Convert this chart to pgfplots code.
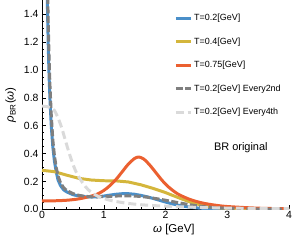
\documentclass[border=0pt]{standalone}
\usepackage{pgfplots}
\pgfplotsset{compat=1.18}
\usepackage{fontspec}
\setmainfont{Liberation Sans}
\definecolor{cblue}{HTML}{4A8FC9}
\definecolor{cyel}{HTML}{D4B63C}
\definecolor{corg}{HTML}{EB6030}
\definecolor{cdg}{HTML}{7F7F7F}
\definecolor{clg}{HTML}{DADADA}
\begin{document}
\begin{tikzpicture}
\begin{axis}[
  scale only axis, width=247bp, height=209bp,
  at={(0,0)}, anchor=south west,
  xmin=0, xmax=4, ymin=0, ymax=1.5,
  axis lines=left, axis line style={-, line width=0.6pt},
  xtick={0,1,2,3,4}, ytick={0,0.2,...,1.4},
  minor x tick num=4, minor y tick num=3,
  tick align=inside,
  major tick length=4pt, minor tick length=2pt,
  tick style={line width=0.5pt, black},
  yticklabel style={/pgf/number format/fixed, /pgf/number format/fixed zerofill, /pgf/number format/precision=1},
  /pgf/number format/assume math mode=true,
  ticklabel style={font=\fontsize{10.5}{12}\selectfont},
  xticklabel style={yshift=2pt},
  label style={font=\fontsize{11.5}{13}\selectfont},
  xlabel={\textit{ω} [GeV]},
  xlabel style={at={(ticklabel cs:0.534)}, anchor=north, yshift=1pt},
  ylabel={\textit{ρ}\textsubscript{BR}(\textit{ω})},
  ylabel style={yshift=1pt},
  legend style={draw=none, fill=none, font=\fontsize{9}{10}\selectfont,
    at={(axis cs:3.02,1.43)}, anchor=north, row sep=11.6pt,
    cells={anchor=west}},
  legend image code/.code={\draw[#1] (0,0) -- (15bp,0);},
  clip=true,
]
\addplot[cblue, line width=3pt] coordinates {
(0.075,2.0)(0.08,1.75)(0.086,1.5)(0.1,1.2)(0.115,0.95)(0.13,0.78)(0.15,0.6)(0.175,0.45)(0.2,0.35)(0.23,0.27)(0.26,0.21)(0.3,0.17)(0.35,0.14)(0.4,0.125)(0.5,0.105)(0.6,0.095)(0.7,0.09)(0.8,0.088)(0.9,0.09)(1.0,0.095)(1.1,0.102)(1.2,0.108)(1.3,0.112)(1.4,0.112)(1.5,0.108)(1.6,0.1)(1.7,0.09)(1.8,0.078)(1.9,0.065)(2.0,0.052)(2.1,0.04)(2.2,0.03)(2.3,0.022)(2.4,0.015)(2.5,0.01)(2.6,0.007)(2.8,0.003)(3.0,0.001)(4.0,0)
};
\addlegendentry{T=0.2[GeV]}
\addplot[cyel, line width=3pt] coordinates {
(0,0.28)(0.2,0.27)(0.4,0.245)(0.6,0.222)(0.8,0.21)(1.0,0.205)(1.2,0.204)(1.4,0.196)(1.6,0.176)(1.8,0.15)(2.0,0.12)(2.2,0.085)(2.4,0.052)(2.6,0.027)(2.8,0.013)(3.0,0.006)(3.5,0.001)(4,0)
};
\addlegendentry{T=0.4[GeV]}
\addplot[corg, line width=3pt, smooth] coordinates {
(0,0.06)(0.2,0.061)(0.4,0.065)(0.6,0.075)(0.8,0.095)(0.9,0.11)(1.0,0.135)(1.1,0.17)(1.2,0.215)(1.3,0.27)(1.4,0.325)(1.5,0.365)(1.57,0.375)(1.65,0.36)(1.75,0.315)(1.85,0.26)(1.95,0.205)(2.05,0.16)(2.2,0.11)(2.4,0.07)(2.6,0.045)(2.8,0.03)(3.0,0.02)(3.5,0.008)(4,0.004)
};
\addlegendentry{T=0.75[GeV]}
\addplot[cdg, line width=3pt, dash pattern=on 7pt off 2.5pt] coordinates {
(0.08,2.0)(0.09,1.65)(0.1,1.35)(0.115,1.08)(0.13,0.88)(0.15,0.68)(0.175,0.5)(0.2,0.39)(0.23,0.3)(0.26,0.24)(0.3,0.19)(0.35,0.155)(0.4,0.135)(0.5,0.113)(0.6,0.1)(0.7,0.093)(0.8,0.09)(0.9,0.09)(1.0,0.091)(1.1,0.093)(1.2,0.095)(1.3,0.097)(1.4,0.097)(1.5,0.095)(1.6,0.092)(1.7,0.087)(1.8,0.08)(1.9,0.073)(2.0,0.065)(2.2,0.048)(2.4,0.032)(2.6,0.02)(2.8,0.012)(3.0,0.007)(3.5,0.002)(4,0)
};
\addlegendentry{T=0.2[GeV] Every2nd}
\addplot[clg, line width=3pt, dash pattern=on 8pt off 4pt, smooth] coordinates {
(0,0.74)(0.1,0.735)(0.2,0.71)(0.3,0.61)(0.375,0.5)(0.45,0.39)(0.54,0.28)(0.65,0.195)(0.75,0.14)(0.9,0.095)(1.1,0.065)(1.35,0.045)(1.6,0.033)(2.0,0.022)(2.5,0.014)(3.0,0.009)(3.5,0.006)(4,0.004)
};
\addlegendentry{T=0.2[GeV] Every4th}
\node[font=\fontsize{11}{13}\selectfont] at (axis cs:3.22,0.445) {BR original};
\end{axis}
\path[use as bounding box] (-42bp,-31bp) rectangle (258bp,209bp);
\end{tikzpicture}
\end{document}
